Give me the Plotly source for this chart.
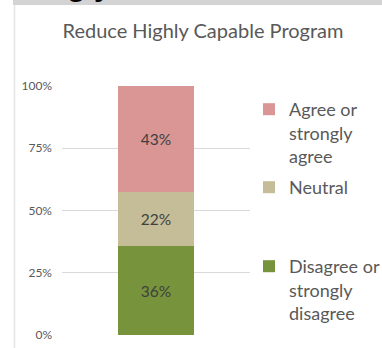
import plotly.graph_objects as go

# Survey responses for the "Reduce Highly Capable Program" option (percent of respondents)
categories = ["Reduce Highly Capable Program"]
responses = ["Disagree or<br>strongly<br>disagree", "Neutral", "Agree or<br>strongly<br>agree"]
shares = [36, 22, 43]
colors = ["#77933C", "#C4BD97", "#D99694"]
tick_values = [0, 25, 50, 75, 100]
tick_labels = ["0%", "25%", "50%", "75%", "100%"]

# Figure geometry (pixels)
FIG_W, FIG_H = 382, 348
PLOT_L, PLOT_R, PLOT_T, PLOT_B = 62, 250, 86, 335
PW, PH = PLOT_R - PLOT_L, PLOT_B - PLOT_T


def fx(px):
    return (px - PLOT_L) / PW


def fy(py):
    return (PLOT_B - py) / PH


def cx(px):
    return px / FIG_W


def cy(py):
    return 1 - py / FIG_H


FONT = "Lato, 'Open Sans', sans-serif"
GREY = "#595959"

fig = go.Figure()
legend_names = ["legend3", "legend2", "legend"]
for name, val, col, leg in zip(responses, shares, colors, legend_names):
    fig.add_trace(go.Bar(
        x=categories,
        y=[val],
        name=name,
        marker=dict(color=col, line=dict(width=0)),
        text=[f"{val}%"],
        textposition="inside",
        insidetextanchor="middle",
        textfont=dict(family=FONT, size=15.5, color="#404040"),
        width=0.4,
        legend=leg,
        hoverinfo="skip",
    ))

legend_common = dict(
    font=dict(family=FONT, size=18, color=GREY),
    bgcolor="rgba(0,0,0,0)",
    borderwidth=0,
    xref="container",
    yref="container",
    xanchor="left",
    yanchor="top",
    valign="top",
    itemclick=False,
    itemdoubleclick=False,
)

fig.update_layout(
    width=FIG_W,
    height=FIG_H,
    margin=dict(l=PLOT_L, r=FIG_W - PLOT_R, t=PLOT_T, b=FIG_H - PLOT_B,
                pad=0, autoexpand=False),
    paper_bgcolor="white",
    plot_bgcolor="white",
    barmode="stack",
    barnorm="percent",
    uniformtext=dict(mode=False),
    title=dict(
        text="Reduce Highly Capable Program",
        font=dict(family=FONT, size=20, color=GREY),
        x=cx(203),
        xanchor="center",
        y=cy(31),
        yanchor="middle",
        xref="container",
        yref="container",
    ),
    xaxis=dict(
        showticklabels=False,
        showgrid=False,
        zeroline=False,
        showline=False,
        ticks="",
    ),
    yaxis=dict(
        range=[0, 100],
        tickvals=tick_values,
        ticktext=tick_labels,
        tickfont=dict(family=FONT, size=12, color=GREY),
        showgrid=True,
        gridcolor="#D9D9D9",
        gridwidth=1,
        zeroline=False,
        showline=False,
        ticks="",
        ticklabelstandoff=9,
    ),
    legend=dict(x=cx(249), y=cy(91), **legend_common),
    legend2=dict(x=cx(249), y=cy(169), **legend_common),
    legend3=dict(x=cx(249), y=cy(248), **legend_common),
    showlegend=True,
)

# Grey header strip along the top and the panel's left edge
fig.add_shape(type="rect", xref="paper", yref="paper",
              x0=fx(13), x1=fx(FIG_W + 2), y0=fy(5), y1=fy(-2),
              fillcolor="#D3D3D3", line=dict(width=0), layer="above")
fig.add_shape(type="line", xref="paper", yref="paper",
              x0=fx(14.5), x1=fx(14.5), y0=fy(5), y1=fy(FIG_H + 2),
              line=dict(color="#E4E4E4", width=1.5), layer="above")

# Heading of the section above, mostly cut off by the top edge
fig.add_annotation(
    text="<b>Strongly</b>", xref="paper", yref="paper",
    x=fx(113), y=fy(5), yshift=1, xanchor="right", yanchor="bottom",
    showarrow=False, font=dict(family="Liberation Sans, sans-serif", size=30, color="black"),
)

fig.write_html("out.html")
